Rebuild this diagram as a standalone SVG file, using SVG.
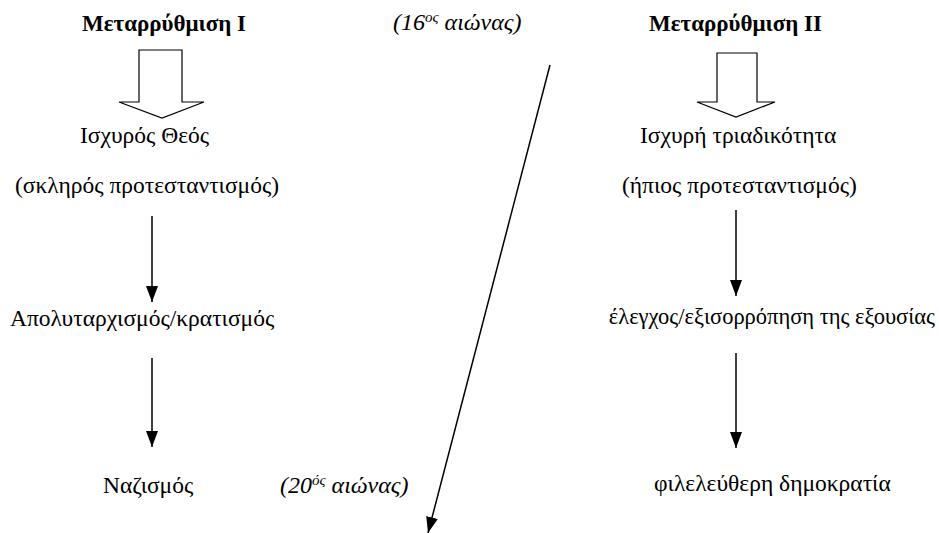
<svg xmlns="http://www.w3.org/2000/svg" width="939" height="533" viewBox="0 0 939 533">
<style>
text{font-family:"Liberation Serif","Times New Roman",serif;font-size:23.5px;fill:#000}
.b{font-weight:bold;font-size:23px}
.i{font-style:italic;font-size:24px}
.sup{font-size:15px}
.s{font-size:22.5px}
.blk{fill:#fff;stroke:#000;stroke-width:1.2}
.ln{stroke:#000;stroke-width:1.5;fill:none}
</style>
<defs>
<marker id="ad" markerWidth="16" markerHeight="12" refX="16" refY="6" orient="auto" markerUnits="userSpaceOnUse" viewBox="0 0 16 12">
<path d="M0,0 L16,6 L0,12 Z" fill="#000"/>
</marker>
</defs>
<g id="t1"><text class="b" x="82" y="31">Μεταρρύθμιση Ι</text></g>
<g id="t2"><text class="b" x="649" y="31">Μεταρρύθμιση ΙΙ</text></g>
<g id="c16"><text class="i" x="393" y="30">(16<tspan class="sup" dy="-8">ος</tspan><tspan dy="8"> αιώνας)</tspan></text></g>
<g id="c20"><text class="i" x="280" y="493">(20<tspan class="sup" dy="-8">ός</tspan><tspan dy="8"> αιώνας)</tspan></text></g>
<g id="b1"><path class="blk" d="M139,50 H182 V102 H204 L162,118 L119,102 H139 Z"/></g>
<g id="b2"><path class="blk" d="M717,53 H757 V102 H775 L736,117 L697,102 H717 Z"/></g>
<g id="n1"><text x="80" y="143">Ισχυρός Θεός</text></g>
<g id="n2"><text x="15" y="193">(σκληρός προτεσταντισμός)</text></g>
<g id="n3"><text x="10" y="326">Απολυταρχισμός/κρατισμός</text></g>
<g id="n4"><text x="103" y="493">Ναζισμός</text></g>
<g id="n5"><text x="640" y="143">Ισχυρή τριαδικότητα</text></g>
<g id="n6"><text x="622" y="193">(ήπιος προτεσταντισμός)</text></g>
<g id="n7"><text class="s" x="935" y="324" text-anchor="end">έλεγχος/εξισορρόπηση της εξουσίας</text></g>
<g id="n8"><text x="654" y="491">φιλελεύθερη δημοκρατία</text></g>
<g id="connectors">
<line class="ln" x1="152" y1="216" x2="152" y2="302" marker-end="url(#ad)"/>
<line class="ln" x1="152" y1="358" x2="152" y2="447" marker-end="url(#ad)"/>
<line class="ln" x1="736" y1="210" x2="736" y2="296" marker-end="url(#ad)"/>
<line class="ln" x1="736" y1="353" x2="736" y2="448" marker-end="url(#ad)"/>
<line class="ln" x1="550" y1="65" x2="428" y2="533" marker-end="url(#ad)"/>
</g>
</svg>
